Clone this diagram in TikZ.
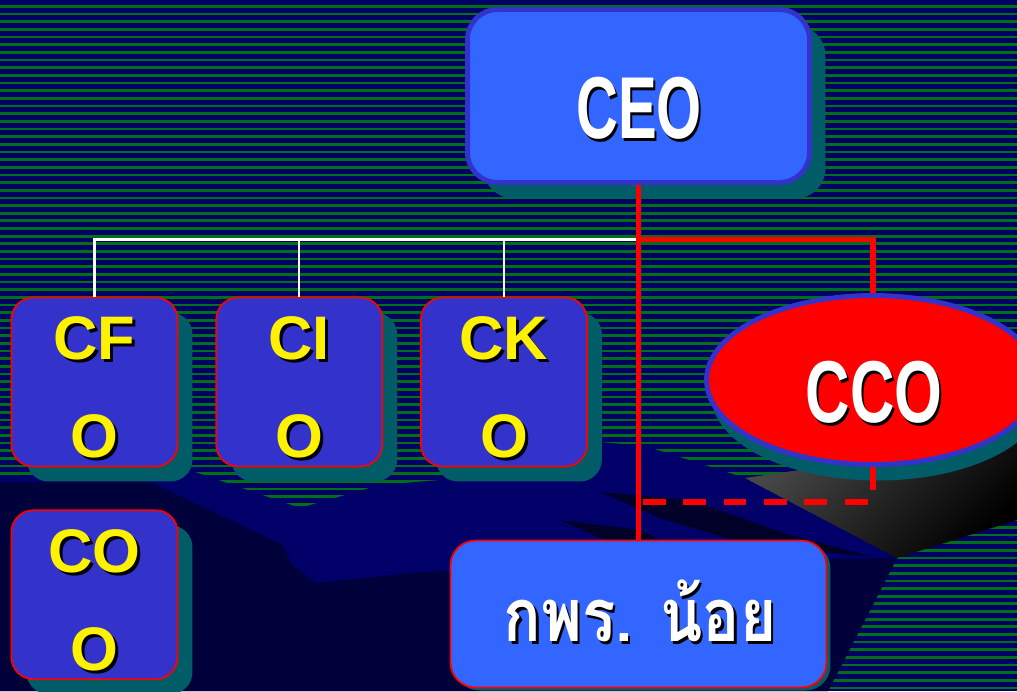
\documentclass[tikz,border=0pt]{standalone}
\usepackage{fontspec}
\setmainfont{Liberation Sans}
\newfontfamily\thaifont[Script=Thai]{Loma}
\usepackage{graphicx}
\usetikzlibrary{positioning,shadows,shapes.geometric}

\definecolor{bgnavy}{RGB}{0,0,102}
\definecolor{stripegreen}{RGB}{0,112,24}
\definecolor{landnavy}{RGB}{0,0,104}
\definecolor{landdark}{RGB}{0,0,58}
\definecolor{landdeep}{RGB}{0,0,40}
\definecolor{boxblue}{RGB}{51,102,255}
\definecolor{rimblue}{RGB}{51,51,204}
\definecolor{tealshade}{RGB}{0,92,102}

% text with a black drop shadow
\newcommand\shd[1]{\rlap{\kern0.06cm\raisebox{-0.06cm}{\color{black}#1}}#1}

\begin{document}
\begin{tikzpicture}[x=0.02cm, y=-0.02cm,
        node distance = 0.84cm and 0.74cm,
        chief/.style = {draw=rimblue, line width=2.8pt, fill=boxblue, rounded corners=0.6cm,
                minimum width=6.84cm, minimum height=3.46cm,
                drop shadow={shadow xshift=0.32cm, shadow yshift=-0.32cm, fill=tealshade, opacity=1}},
        officer/.style = {draw=red, line width=1pt, fill=rimblue, rounded corners=0.44cm,
                minimum width=3.32cm, minimum height=3.38cm,
                drop shadow={shadow xshift=0.3cm, shadow yshift=-0.3cm, fill=tealshade, opacity=1}},
        office/.style = {draw=red, line width=1pt, fill=boxblue, rounded corners=0.5cm,
                minimum width=7.52cm, minimum height=2.94cm,
                drop shadow={shadow xshift=0.08cm, shadow yshift=-0.06cm, fill=tealshade, opacity=1}},
        content/.style = {ellipse, draw=rimblue, line width=2.8pt, fill=red,
                minimum width=6.66cm, minimum height=3.38cm,
                drop shadow={shadow xshift=0.1cm, shadow yshift=-0.32cm, fill=tealshade, opacity=1}},
        bigtext/.style = {text=white, font=\fontsize{50}{50}\selectfont\bfseries},
        posttext/.style = {text=yellow, align=center, font=\fontsize{35}{55.8}\selectfont\bfseries},
        thaitext/.style = {text=white, font=\fontsize{42}{42}\selectfont\thaifont\bfseries},
        redline/.style = {red, line width=3.2pt},
        busline/.style = {white, line width=1.2pt},
    ]
    \useasboundingbox (0,0) rectangle (1017,691);
    \clip (0,0) rectangle (1017,691);

    % background
    \fill[bgnavy] (0,0) rectangle (1017,691);
    \foreach \i in {0,...,90}
        \fill[stripegreen] (0,\i*7.66+5) rectangle (1017,\i*7.66+7.7);
    \fill[landnavy] (0,478) -- (150,474) -- (195,472) -- (300,508) -- (380,485) -- (560,470)
        -- (600,442) -- (645,446) -- (745,478) -- (897,558) -- (828,691) -- (0,691) -- cycle;
    \fill[landdark] (0,482) -- (150,482) -- (283,545) -- (292,565) -- (316,583) -- (420,572)
        -- (600,566) -- (760,560) -- (897,558) -- (828,691) -- (0,691) -- cycle;
    \fill[landdeep] (600,492) -- (690,500) -- (790,535) -- (870,556) -- (760,548) -- (660,518) -- cycle;
    \fill[landdeep] (560,520) -- (640,530) -- (700,560) -- (640,556) -- cycle;
    \shade[top color=black!72, bottom color=black, shading angle=45]
        (745,478) -- (1017,438) -- (1017,520) -- (897,558) -- cycle;

    % boxes
    \node[chief] (ceo) at (638.5,96) {};
    \node[officer] (cfo) at (94.5,382) {};
    \node[officer, right=of cfo] (cio) {};
    \node[officer, right=of cio] (cko) {};
    \node[officer, below=of cfo] (coo) {};
    \node[content] (cco) at (873,380) {};
    \node[office] (kpr) at (638.5,614) {};

    % texts
    \node[bigtext] (ceo-t) at (639,110) {\scalebox{0.66}[1]{\shd{CEO}}};
    \node[bigtext] (cco-t) at (874,394) {\scalebox{0.7}[1]{\shd{CCO}}};
    \node[posttext] (cfo-t) at ([yshift=-0.14cm]cfo.center) {\shd{CF}\\\shd{O}};
    \node[posttext] (cio-t) at ([yshift=-0.14cm]cio.center) {\shd{CI}\\\shd{O}};
    \node[posttext] (cko-t) at ([yshift=-0.14cm]cko.center) {\shd{CK}\\\shd{O}};
    \node[posttext] (coo-t) at ([yshift=-0.14cm]coo.center) {\shd{CO}\\\shd{O}};
    \node[thaitext] (kpr-t) at (640,612) {\scalebox{0.84}[1]{\shd{กพร. น้อย}}};

    % lines
    \coordinate (fork) at (638.5,239.5);
    \coordinate (dashend) at (638.5,502);
    \foreach \n in {cfo,cio,cko}
        \draw[busline] (\n.north) |- (fork);
    \draw[redline] (ceo.south) -- (kpr.north);
    \draw[redline] (fork) -| (cco.north);
    \draw[redline, dash pattern=on 13pt off 10pt] (cco.south) |- (dashend);
\end{tikzpicture}
\end{document}
